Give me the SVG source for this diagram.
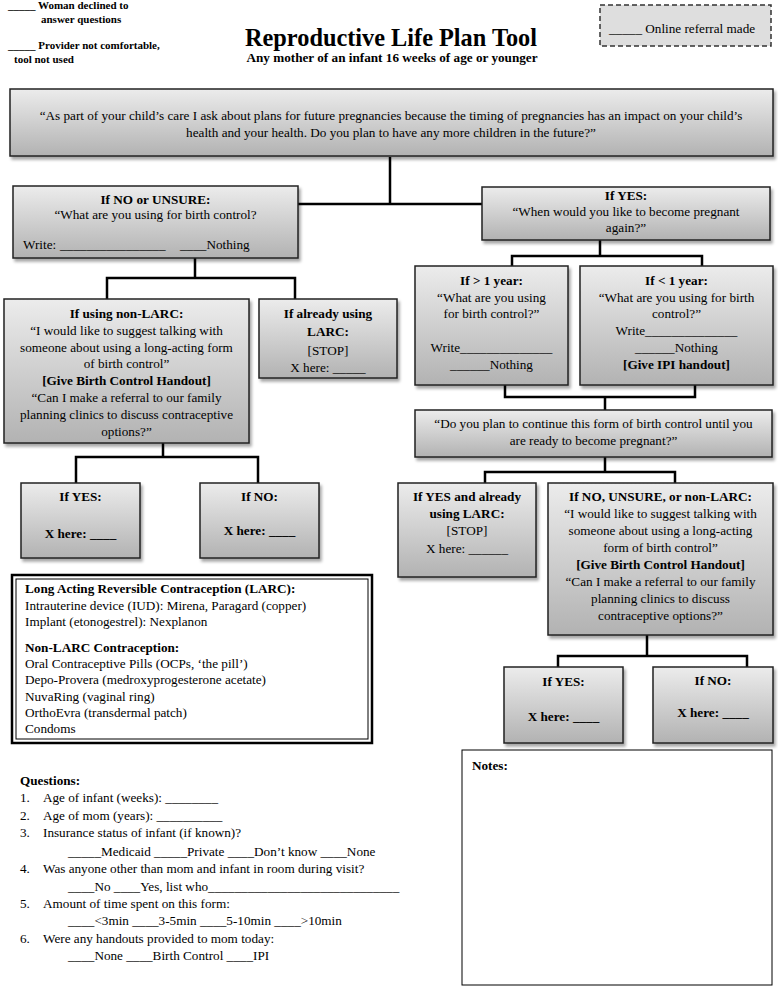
<svg xmlns="http://www.w3.org/2000/svg" width="778" height="992" viewBox="0 0 778 992">
<defs>
<linearGradient id="g" x1="0" y1="0" x2="0" y2="1">
<stop offset="0" stop-color="#ececec"/>
<stop offset="1" stop-color="#b2b2b2"/>
</linearGradient>
<filter id="sh" x="-10%" y="-10%" width="130%" height="140%">
<feDropShadow dx="2" dy="3" stdDeviation="1.5" flood-color="#000" flood-opacity="0.35"/>
</filter>
<style>
.box{fill:url(#g);stroke:#222;stroke-width:1.5;filter:url(#sh)}
.t{font-family:"Liberation Serif","Times New Roman",serif;font-size:13.2px;fill:#000;text-anchor:middle}
.l{text-anchor:start}
.b{font-weight:bold}
.hd{font-family:"Liberation Serif","Times New Roman",serif;font-weight:bold;fill:#000}
.c{fill:none;stroke:#000;stroke-width:2.5}
</style>
</defs>
<rect width="778" height="992" fill="#fff"/>

<g id="header">
<text class="hd" x="8" y="9" font-size="11">_____ Woman declined to</text>
<text class="hd" x="41" y="23" font-size="11">answer questions</text>
<text class="hd" x="8" y="49" font-size="11">_____ Provider not comfortable,</text>
<text class="hd" x="14" y="63" font-size="11">tool not used</text>
<text class="hd" x="391" y="46" font-size="25" text-anchor="middle" textLength="292" lengthAdjust="spacingAndGlyphs">Reproductive Life Plan Tool</text>
<text class="hd" x="392" y="62" font-size="13.2" text-anchor="middle">Any mother of an infant 16 weeks of age or younger</text>
</g>

<g id="online-referral">
<rect x="600" y="5" width="171" height="41" fill="#dedede" stroke="#333" stroke-width="1.5" stroke-dasharray="5,3"/>
<text class="t l" x="609" y="33" font-size="11.5">_____ Online referral made</text>
</g>

<g id="connectors">
<path class="c" d="M390 157 V204 M298 204 H482"/>
<path class="c" d="M195 258 V278 M107 299 V278 H295 V299"/>
<path class="c" d="M600 240 V256 M512 266 V256 H702 V266"/>
<path class="c" d="M505 385 V397 H695 V385 M605 397 V410"/>
<path class="c" d="M605 457 V472 M485 483 V472 H675 V483"/>
<path class="c" d="M163 443 V457 M76 483 V457 H258 V483"/>
<path class="c" d="M647 635 V656 M558 667 V656 H747 V667"/>
</g>

<g id="main-question">
<rect class="box" x="10" y="89" width="763" height="67"/>
<text class="t" x="391" y="120">“As part of your child’s care I ask about plans for future pregnancies because the timing of pregnancies has an impact on your child’s</text>
<text class="t" x="391" y="137">health and your health. Do you plan to have any more children in the future?”</text>
</g>

<g id="if-no-unsure">
<rect class="box" x="13" y="186" width="285" height="72"/>
<text class="t b" x="155.5" y="204">If NO or UNSURE:</text>
<text class="t" x="155.5" y="219">“What are you using for birth control?</text>
<text class="t l" x="23" y="249">Write: <tspan x="60">________________</tspan><tspan x="180">____Nothing</tspan></text>
</g>

<g id="if-yes">
<rect class="box" x="482" y="187" width="288" height="53"/>
<text class="t b" x="626" y="200">If YES:</text>
<text class="t" x="626" y="216">“When would you like to become pregnant</text>
<text class="t" x="626" y="232">again?”</text>
</g>

<g id="non-larc">
<rect class="box" x="4" y="299" width="245" height="144"/>
<text class="t b" x="126.5" y="318">If using non-LARC:</text>
<text class="t" x="126.5" y="335">“I would like to suggest talking with</text>
<text class="t" x="126.5" y="352">someone about using a long-acting form</text>
<text class="t" x="126.5" y="368">of birth control”</text>
<text class="t b" x="126.5" y="385">[Give Birth Control Handout]</text>
<text class="t" x="126.5" y="402">“Can I make a referral to our family</text>
<text class="t" x="126.5" y="419">planning clinics to discuss contraceptive</text>
<text class="t" x="126.5" y="436">options?”</text>
</g>

<g id="already-larc">
<rect class="box" x="259" y="299" width="138" height="79"/>
<text class="t b" x="328" y="318">If already using</text>
<text class="t b" x="328" y="336">LARC:</text>
<text class="t" x="328" y="355">[STOP]</text>
<text class="t" x="328" y="372">X here: _____</text>
</g>

<g id="more-than-1-year">
<rect class="box" x="415" y="266" width="153" height="119"/>
<text class="t b" x="491.5" y="285">If  &gt; 1 year:</text>
<text class="t" x="491.5" y="302">“What are you using</text>
<text class="t" x="491.5" y="318">for birth control?”</text>
<text class="t" x="491.5" y="352">Write______________</text>
<text class="t" x="491.5" y="369">______Nothing</text>
</g>

<g id="less-than-1-year">
<rect class="box" x="580" y="266" width="193" height="119"/>
<text class="t b" x="676.5" y="285">If  &lt; 1 year:</text>
<text class="t" x="676.5" y="302">“What are you using for birth</text>
<text class="t" x="676.5" y="318">control?”</text>
<text class="t" x="676.5" y="335">Write______________</text>
<text class="t" x="676.5" y="352">______Nothing</text>
<text class="t b" x="676.5" y="369">[Give IPI handout]</text>
</g>

<g id="continue-question">
<rect class="box" x="415" y="410" width="357" height="47"/>
<text class="t" x="593.5" y="428">“Do you plan to continue this form of birth control until you</text>
<text class="t" x="593.5" y="445">are ready to become pregnant?”</text>
</g>

<g id="yes-already-larc">
<rect class="box" x="398" y="483" width="138" height="94"/>
<text class="t b" x="467" y="501">If YES and already</text>
<text class="t b" x="467" y="518">using LARC:</text>
<text class="t" x="467" y="535">[STOP]</text>
<text class="t" x="467" y="553">X here: ______</text>
</g>

<g id="no-unsure-nonlarc">
<rect class="box" x="548" y="483" width="225" height="152"/>
<text class="t b" x="660.5" y="501">If NO, UNSURE, or non-LARC:</text>
<text class="t" x="660.5" y="518">“I would like to suggest talking with</text>
<text class="t" x="660.5" y="535">someone about using a long-acting</text>
<text class="t" x="660.5" y="552">form of birth control”</text>
<text class="t b" x="660.5" y="569">[Give Birth Control Handout]</text>
<text class="t" x="660.5" y="586">“Can I make a referral to our family</text>
<text class="t" x="660.5" y="603">planning clinics to discuss</text>
<text class="t" x="660.5" y="620">contraceptive options?”</text>
</g>

<g id="left-yes">
<rect class="box" x="21" y="483" width="119" height="75"/>
<text class="t b" x="80.5" y="501">If YES:</text>
<text class="t b" x="80.5" y="538">X here: ____</text>
</g>

<g id="left-no">
<rect class="box" x="200" y="483" width="119" height="75"/>
<text class="t b" x="259.5" y="501">If NO:</text>
<text class="t b" x="259.5" y="535">X here: ____</text>
</g>

<g id="right-yes">
<rect class="box" x="504" y="667" width="119" height="76"/>
<text class="t b" x="563.5" y="686">If YES:</text>
<text class="t b" x="563.5" y="721">X here: ____</text>
</g>

<g id="right-no">
<rect class="box" x="653" y="667" width="120" height="76"/>
<text class="t b" x="713" y="685">If NO:</text>
<text class="t b" x="713" y="717">X here: ____</text>
</g>

<g id="larc-info">
<rect x="12" y="575" width="360" height="168" fill="#fff" stroke="#000" stroke-width="2.5"/>
<rect x="16" y="579" width="352" height="160" fill="none" stroke="#000" stroke-width="1"/>
<text class="t l b" x="25" y="593">Long Acting Reversible Contraception (LARC):</text>
<text class="t l" x="25" y="610">Intrauterine device (IUD): Mirena, Paragard (copper)</text>
<text class="t l" x="25" y="626">Implant (etonogestrel): Nexplanon</text>
<text class="t l b" x="25" y="652">Non-LARC Contraception:</text>
<text class="t l" x="25" y="668">Oral Contraceptive Pills (OCPs, ‘the pill’)</text>
<text class="t l" x="25" y="684">Depo-Provera (medroxyprogesterone acetate)</text>
<text class="t l" x="25" y="701">NuvaRing (vaginal ring)</text>
<text class="t l" x="25" y="717">OrthoEvra (transdermal patch)</text>
<text class="t l" x="25" y="733">Condoms</text>
</g>

<g id="questions">
<text class="t l b" x="20" y="785">Questions:</text>
<text class="t l" x="20" y="802">1.</text><text class="t l" x="43" y="802">Age of infant (weeks): ________</text>
<text class="t l" x="20" y="820">2.</text><text class="t l" x="43" y="820">Age of mom (years): __________</text>
<text class="t l" x="20" y="837">3.</text><text class="t l" x="43" y="837">Insurance status of infant (if known)?</text>
<text class="t l" x="68" y="856">_____Medicaid _____Private ____Don’t know ____None</text>
<text class="t l" x="20" y="873">4.</text><text class="t l" x="43" y="873">Was anyone other than mom and infant in room during visit?</text>
<text class="t l" x="68" y="891">____No ____Yes, list who_____________________________</text>
<text class="t l" x="20" y="908">5.</text><text class="t l" x="43" y="908">Amount of time spent on this form:</text>
<text class="t l" x="68" y="925">____&lt;3min ____3-5min ____5-10min ____&gt;10min</text>
<text class="t l" x="20" y="943">6.</text><text class="t l" x="43" y="943">Were any handouts provided to mom today:</text>
<text class="t l" x="68" y="960">____None ____Birth Control ____IPI</text>
</g>

<g id="notes">
<rect x="462" y="750" width="310" height="235" fill="#fff" stroke="#000" stroke-width="1"/>
<text class="t l b" x="472" y="770">Notes:</text>
</g>
</svg>
